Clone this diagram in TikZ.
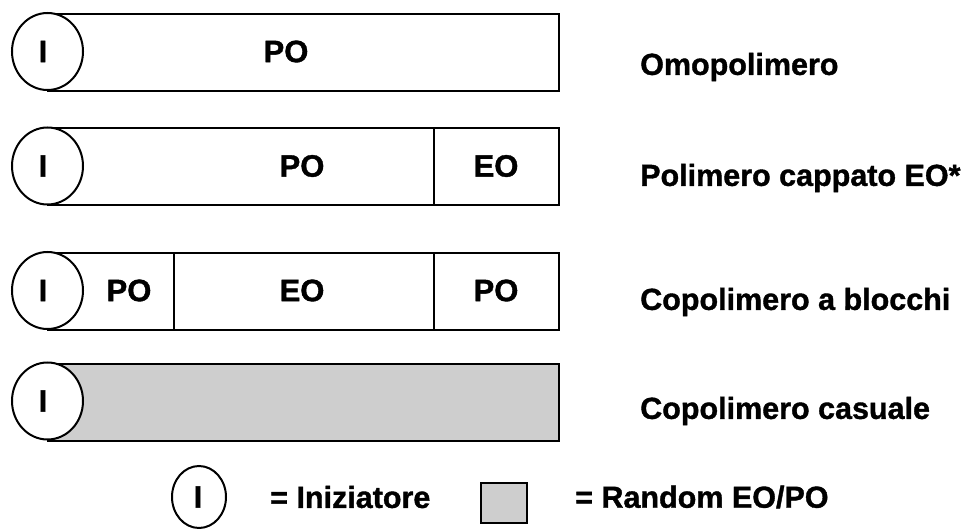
\documentclass[tikz,border=0pt]{standalone}
\usepackage{fontspec}
\setmainfont{Liberation Sans}
\newfontfamily\heavyfont{Liberation Sans Bold}[FakeBold=1.2]
\usetikzlibrary{shapes.geometric}
\definecolor{randomgray}{RGB}{206,206,206}
\begin{document}
\begin{tikzpicture}[x=1pt,y=-1pt,
  block/.style={draw=black, line width=2pt, rectangle, inner sep=0pt,
                anchor=north west, minimum height=77pt},
  init/.style={draw=black, line width=2pt, ellipse, fill=white, inner sep=0pt,
               minimum width=71pt, minimum height=77pt},
  tag/.style={font=\heavyfont\fontsize{31}{36}\selectfont, inner sep=0pt},
  rowname/.style={font=\heavyfont\fontsize{30.5}{36}\selectfont, inner sep=0pt, anchor=west},
  legendtext/.style={font=\heavyfont\fontsize{30.5}{36}\selectfont, inner sep=0pt, anchor=west}
]
\useasboundingbox (0,0) rectangle (963,529);

% Omopolimero
\node[block, minimum width=511pt] (h) at (47,13) {};
\node[init] (hi) at (47.5,51.5) {};
\node[tag] at (43,51.5) {I};
\node[tag] at (286,51.5) {PO};
\node[rowname] (hn) at (640,67) {Omopolimero};

% Polimero cappato EO
\node[block, minimum width=386pt] (cpo) at (47,127.5) {};
\node[block, minimum width=125pt] (ceo) at (433,127.5) {};
\node[init] (ci) at (47.5,166) {};
\node[tag] at (43,166) {I};
\node[tag] at (302,166) {PO};
\node[tag] at (496,166) {EO};
\node[rowname] (cn) at (640,178) {Polimero cappato EO*};

% Copolimero a blocchi
\node[block, minimum width=126pt] (bpo1) at (47,252) {};
\node[block, minimum width=260pt] (beo) at (173,252) {};
\node[block, minimum width=125pt] (bpo2) at (433,252) {};
\node[init] (bi) at (47.5,290.5) {};
\node[tag] at (43,290.5) {I};
\node[tag] at (129,290.5) {PO};
\node[tag] at (302,290.5) {EO};
\node[tag] at (496,290.5) {PO};
\node[rowname] (bn) at (640,302) {Copolimero a blocchi};

% Copolimero casuale
\node[block, minimum width=511pt, fill=randomgray] (r) at (47,362.5) {};
\node[init] (ri) at (47.5,401) {};
\node[tag] at (43,401) {I};
\node[rowname] (rn) at (640,411) {Copolimero casuale};

% Legenda
\node[draw=black, line width=2pt, ellipse, inner sep=0pt,
      minimum width=54pt, minimum height=62pt] (li) at (199,497) {};
\node[tag] at (198,497) {I};
\node[legendtext] (lt1) at (270,497) {= Iniziatore};
\node[draw=black, line width=2pt, fill=randomgray, inner sep=0pt,
      minimum width=46pt, minimum height=40pt] (lg) at (503.5,503) {};
\node[legendtext] (lt2) at (575,497) {= Random EO/PO};
\end{tikzpicture}
\end{document}
